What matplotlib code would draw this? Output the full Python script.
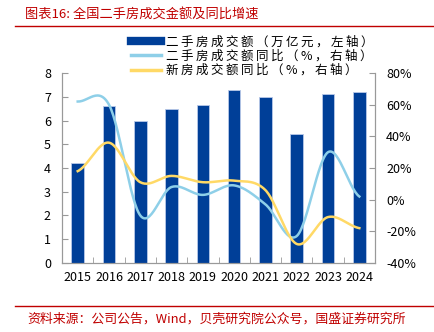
import numpy as np
import matplotlib
matplotlib.use('Agg')
import matplotlib.pyplot as plt
from matplotlib.lines import Line2D

plt.rcParams['font.family'] = ['Noto Sans CJK SC', 'DejaVu Sans']

# 数据
years = ['2015', '2016', '2017', '2018', '2019', '2020', '2021', '2022', '2023', '2024']
amount = [4.2, 6.6, 6.0, 6.5, 6.65, 7.3, 7.0, 5.45, 7.1, 7.2]          # 二手房成交额，万亿元
second_yoy = [62, 60, -10, 8, 3, 9, -3, -23, 30, 2]                   # 二手房同比，%
new_yoy = [18, 36, 11, 15, 11, 12, 6, -28, -11, -18]                  # 新房同比，%
legend_labels = ['二手房成交额（万亿元，左轴）', '二手房成交额同比（%，右轴）', '新房成交额同比（%，右轴）']


def smooth(y, n=30):
    # Catmull-Rom 平滑线
    y = np.asarray(y, dtype=float)
    pts = np.concatenate([[y[0]], y, [y[-1]]])
    xs, ys = [], []
    for i in range(len(y) - 1):
        p0, p1, p2, p3 = pts[i], pts[i + 1], pts[i + 2], pts[i + 3]
        t = np.linspace(0, 1, n, endpoint=False)
        v = 0.5 * (2 * p1 + (-p0 + p2) * t + (2 * p0 - 5 * p1 + 4 * p2 - p3) * t ** 2
                   + (-p0 + 3 * p1 - 3 * p2 + p3) * t ** 3)
        xs.append(i + t)
        ys.append(v)
    xs.append([len(y) - 1])
    ys.append([y[-1]])
    return np.concatenate(xs), np.concatenate(ys)


def spaced(s):
    # 字间加细空格
    return '\u2009'.join(s)


bar_c = '#003f98'
blue_c = '#8ecfe8'
yel_c = '#ffd966'
red_c = '#c00000'

fig = plt.figure(figsize=(4.34, 3.32), dpi=100)
ax = fig.add_axes([0.143, 0.208, 0.721, 0.572])
ax2 = ax.twinx()

x = np.arange(len(years))
ax.bar(x, amount, width=0.4, color=bar_c, edgecolor='#b8c8e8', linewidth=0.6, zorder=2)
ax.set_xlim(-0.5, len(years) - 0.5)
ax.set_ylim(0, 8)
ax.set_yticks(range(0, 9))
ax.set_xticks(x)
ax.set_xticklabels(years)
ax.set_xticks(np.arange(-0.5, len(years) + 0.5), minor=True)
ax.tick_params(axis='x', which='major', length=0, labelsize=9, pad=6)
ax.tick_params(axis='x', which='minor', direction='in', length=4, color='#999999')
ax.tick_params(axis='y', direction='in', length=4, color='#999999', labelsize=9, pad=8)

sx, sy = smooth(second_yoy)
nx, ny = smooth(new_yoy)
ax2.plot(sx, sy, color=blue_c, linewidth=1.8, zorder=3)
ax2.plot(nx, ny, color=yel_c, linewidth=1.8, zorder=3)
ax2.set_ylim(-40, 80)
ax2.set_yticks(range(-40, 81, 20))
ax2.set_yticklabels([f'{v}%' for v in range(-40, 81, 20)])
ax2.tick_params(axis='y', direction='in', length=4, color='#999999', labelsize=9, pad=8)

for a in (ax, ax2):
    a.spines['top'].set_visible(False)
    for s in ('left', 'right', 'bottom'):
        a.spines[s].set_color('#999999')
        a.spines[s].set_linewidth(0.8)
ax.set_zorder(ax2.get_zorder() - 1)
ax.patch.set_visible(False)

handles = [Line2D([], [], color=bar_c, linewidth=6),
           Line2D([], [], color=blue_c, linewidth=2.5),
           Line2D([], [], color=yel_c, linewidth=2.5)]
fig.legend(handles, [spaced(s) for s in legend_labels], loc='upper left',
           bbox_to_anchor=(0.288, 0.912), frameon=False,
           fontsize=9, handlelength=2.4, handletextpad=0.4, labelspacing=0.1,
           borderpad=0)

# 标题与来源
fig.text(0.058, 0.955, '图表16: 全国二手房成交金额及同比增速', color=red_c, fontsize=9.5,
         va='center', ha='left')
fig.add_artist(Line2D([0.035, 1.0], [0.922, 0.922], color=red_c, linewidth=1.0))
fig.add_artist(Line2D([0.035, 1.0], [0.078, 0.078], color=red_c, linewidth=1.0))
fig.text(0.062, 0.04, '资料来源：公司公告，Wind，贝壳研究院公众号，国盛证券研究所', color=red_c,
         fontsize=9.3, va='center', ha='left')

fig.savefig('out.png', dpi=100)
